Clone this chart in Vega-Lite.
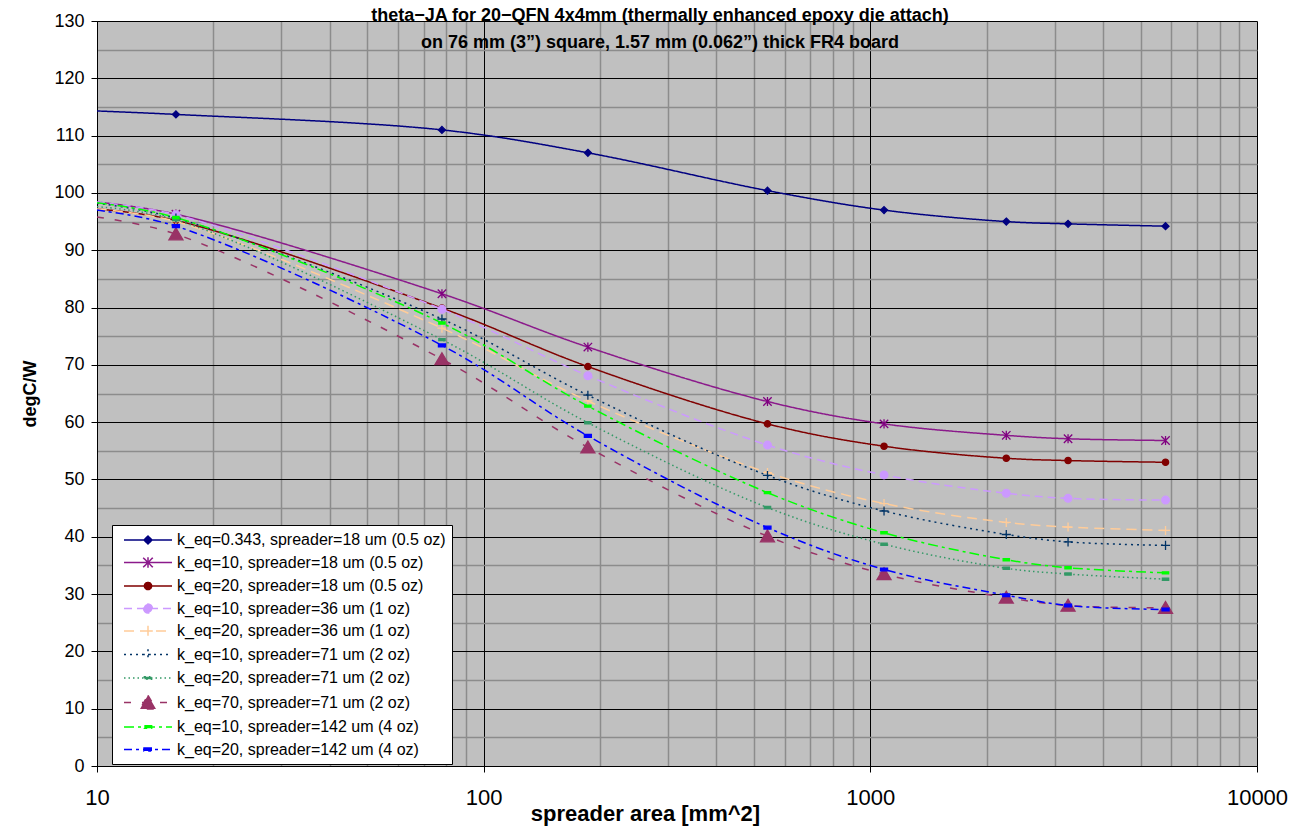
{
  "$schema": "https://vega.github.io/schema/vega-lite/v6.json",
  "width": 1160,
  "height": 745,
  "autosize": "none",
  "padding": {"left": 97, "top": 21, "right": 38, "bottom": 63},
  "background": "white",
  "config": {
    "view": {"fill": "#C0C0C0", "stroke": null},
    "font": "Liberation Sans",
    "legend": {
      "orient": "none",
      "legendX": 15,
      "legendY": 504,
      "fillColor": "white",
      "strokeColor": "black",
      "padding": 6,
      "labelFont": "Liberation Sans",
      "labelFontSize": 16,
      "labelColor": "black",
      "labelLimit": 500,
      "symbolType": "M-3,0L3,0",
      "symbolSize": 256,
      "symbolOffset": 21,
      "labelOffset": 20,
      "rowPadding": 5.5
    }
  },
  "title": {
    "text": ["theta−JA for 20−QFN 4x4mm (thermally enhanced epoxy die attach)", "on 76 mm (3”) square, 1.57 mm (0.062”) thick FR4 board"],
    "fontSize": 18,
    "fontWeight": "bold",
    "font": "Liberation Sans",
    "color": "black",
    "anchor": "middle",
    "offset": -40,
    "dx": -17,
    "lineHeight": 27
  },
  "resolve": {"axis": {"x": "independent", "y": "independent"}},
  "data": {
    "values": [
      {"series": "k_eq=0.343, spreader=18 um (0.5 oz)", "area": 10, "theta": 114.3},
      {"series": "k_eq=0.343, spreader=18 um (0.5 oz)", "area": 16, "theta": 113.7},
      {"series": "k_eq=0.343, spreader=18 um (0.5 oz)", "area": 78, "theta": 111.0},
      {"series": "k_eq=0.343, spreader=18 um (0.5 oz)", "area": 186, "theta": 107.0},
      {"series": "k_eq=0.343, spreader=18 um (0.5 oz)", "area": 542, "theta": 100.4},
      {"series": "k_eq=0.343, spreader=18 um (0.5 oz)", "area": 1085, "theta": 97.0},
      {"series": "k_eq=0.343, spreader=18 um (0.5 oz)", "area": 2247, "theta": 95.0},
      {"series": "k_eq=0.343, spreader=18 um (0.5 oz)", "area": 3246, "theta": 94.6},
      {"series": "k_eq=0.343, spreader=18 um (0.5 oz)", "area": 5800, "theta": 94.2},
      {"series": "k_eq=10, spreader=18 um (0.5 oz)", "area": 10, "theta": 98.4},
      {"series": "k_eq=10, spreader=18 um (0.5 oz)", "area": 16, "theta": 96.3},
      {"series": "k_eq=10, spreader=18 um (0.5 oz)", "area": 78, "theta": 82.4},
      {"series": "k_eq=10, spreader=18 um (0.5 oz)", "area": 186, "theta": 73.1},
      {"series": "k_eq=10, spreader=18 um (0.5 oz)", "area": 542, "theta": 63.6},
      {"series": "k_eq=10, spreader=18 um (0.5 oz)", "area": 1085, "theta": 59.7},
      {"series": "k_eq=10, spreader=18 um (0.5 oz)", "area": 2247, "theta": 57.7},
      {"series": "k_eq=10, spreader=18 um (0.5 oz)", "area": 3246, "theta": 57.1},
      {"series": "k_eq=10, spreader=18 um (0.5 oz)", "area": 5800, "theta": 56.8},
      {"series": "k_eq=20, spreader=18 um (0.5 oz)", "area": 10, "theta": 97.2},
      {"series": "k_eq=20, spreader=18 um (0.5 oz)", "area": 16, "theta": 95.2},
      {"series": "k_eq=20, spreader=18 um (0.5 oz)", "area": 78, "theta": 79.9},
      {"series": "k_eq=20, spreader=18 um (0.5 oz)", "area": 186, "theta": 69.7},
      {"series": "k_eq=20, spreader=18 um (0.5 oz)", "area": 542, "theta": 59.7},
      {"series": "k_eq=20, spreader=18 um (0.5 oz)", "area": 1085, "theta": 55.8},
      {"series": "k_eq=20, spreader=18 um (0.5 oz)", "area": 2247, "theta": 53.7},
      {"series": "k_eq=20, spreader=18 um (0.5 oz)", "area": 3246, "theta": 53.3},
      {"series": "k_eq=20, spreader=18 um (0.5 oz)", "area": 5800, "theta": 53.0},
      {"series": "k_eq=10, spreader=36 um (1 oz)", "area": 10, "theta": 98.4},
      {"series": "k_eq=10, spreader=36 um (1 oz)", "area": 16, "theta": 96.2},
      {"series": "k_eq=10, spreader=36 um (1 oz)", "area": 78, "theta": 79.7},
      {"series": "k_eq=10, spreader=36 um (1 oz)", "area": 186, "theta": 68.1},
      {"series": "k_eq=10, spreader=36 um (1 oz)", "area": 542, "theta": 56.0},
      {"series": "k_eq=10, spreader=36 um (1 oz)", "area": 1085, "theta": 50.8},
      {"series": "k_eq=10, spreader=36 um (1 oz)", "area": 2247, "theta": 47.6},
      {"series": "k_eq=10, spreader=36 um (1 oz)", "area": 3246, "theta": 46.7},
      {"series": "k_eq=10, spreader=36 um (1 oz)", "area": 5800, "theta": 46.4},
      {"series": "k_eq=20, spreader=36 um (1 oz)", "area": 10, "theta": 97.2},
      {"series": "k_eq=20, spreader=36 um (1 oz)", "area": 16, "theta": 95.0},
      {"series": "k_eq=20, spreader=36 um (1 oz)", "area": 78, "theta": 76.4},
      {"series": "k_eq=20, spreader=36 um (1 oz)", "area": 186, "theta": 63.7},
      {"series": "k_eq=20, spreader=36 um (1 oz)", "area": 542, "theta": 51.2},
      {"series": "k_eq=20, spreader=36 um (1 oz)", "area": 1085, "theta": 45.8},
      {"series": "k_eq=20, spreader=36 um (1 oz)", "area": 2247, "theta": 42.5},
      {"series": "k_eq=20, spreader=36 um (1 oz)", "area": 3246, "theta": 41.7},
      {"series": "k_eq=20, spreader=36 um (1 oz)", "area": 5800, "theta": 41.1},
      {"series": "k_eq=10, spreader=71 um (2 oz)", "area": 10, "theta": 98.2},
      {"series": "k_eq=10, spreader=71 um (2 oz)", "area": 16, "theta": 95.6},
      {"series": "k_eq=10, spreader=71 um (2 oz)", "area": 78, "theta": 78.0},
      {"series": "k_eq=10, spreader=71 um (2 oz)", "area": 186, "theta": 64.7},
      {"series": "k_eq=10, spreader=71 um (2 oz)", "area": 542, "theta": 50.7},
      {"series": "k_eq=10, spreader=71 um (2 oz)", "area": 1085, "theta": 44.5},
      {"series": "k_eq=10, spreader=71 um (2 oz)", "area": 2247, "theta": 40.4},
      {"series": "k_eq=10, spreader=71 um (2 oz)", "area": 3246, "theta": 39.1},
      {"series": "k_eq=10, spreader=71 um (2 oz)", "area": 5800, "theta": 38.5},
      {"series": "k_eq=20, spreader=71 um (2 oz)", "area": 10, "theta": 97.6},
      {"series": "k_eq=20, spreader=71 um (2 oz)", "area": 16, "theta": 95.3},
      {"series": "k_eq=20, spreader=71 um (2 oz)", "area": 78, "theta": 74.4},
      {"series": "k_eq=20, spreader=71 um (2 oz)", "area": 186, "theta": 59.9},
      {"series": "k_eq=20, spreader=71 um (2 oz)", "area": 542, "theta": 45.1},
      {"series": "k_eq=20, spreader=71 um (2 oz)", "area": 1085, "theta": 38.7},
      {"series": "k_eq=20, spreader=71 um (2 oz)", "area": 2247, "theta": 34.5},
      {"series": "k_eq=20, spreader=71 um (2 oz)", "area": 3246, "theta": 33.5},
      {"series": "k_eq=20, spreader=71 um (2 oz)", "area": 5800, "theta": 32.6},
      {"series": "k_eq=70, spreader=71 um (2 oz)", "area": 10, "theta": 95.8},
      {"series": "k_eq=70, spreader=71 um (2 oz)", "area": 16, "theta": 92.8},
      {"series": "k_eq=70, spreader=71 um (2 oz)", "area": 78, "theta": 71.0},
      {"series": "k_eq=70, spreader=71 um (2 oz)", "area": 186, "theta": 55.6},
      {"series": "k_eq=70, spreader=71 um (2 oz)", "area": 542, "theta": 40.1},
      {"series": "k_eq=70, spreader=71 um (2 oz)", "area": 1085, "theta": 33.5},
      {"series": "k_eq=70, spreader=71 um (2 oz)", "area": 2247, "theta": 29.4},
      {"series": "k_eq=70, spreader=71 um (2 oz)", "area": 3246, "theta": 28.0},
      {"series": "k_eq=70, spreader=71 um (2 oz)", "area": 5800, "theta": 27.6},
      {"series": "k_eq=10, spreader=142 um (4 oz)", "area": 10, "theta": 98.3},
      {"series": "k_eq=10, spreader=142 um (4 oz)", "area": 16, "theta": 95.7},
      {"series": "k_eq=10, spreader=142 um (4 oz)", "area": 78, "theta": 77.3},
      {"series": "k_eq=10, spreader=142 um (4 oz)", "area": 186, "theta": 62.8},
      {"series": "k_eq=10, spreader=142 um (4 oz)", "area": 542, "theta": 47.7},
      {"series": "k_eq=10, spreader=142 um (4 oz)", "area": 1085, "theta": 40.7},
      {"series": "k_eq=10, spreader=142 um (4 oz)", "area": 2247, "theta": 36.0},
      {"series": "k_eq=10, spreader=142 um (4 oz)", "area": 3246, "theta": 34.6},
      {"series": "k_eq=10, spreader=142 um (4 oz)", "area": 5800, "theta": 33.7},
      {"series": "k_eq=20, spreader=142 um (4 oz)", "area": 10, "theta": 97.0},
      {"series": "k_eq=20, spreader=142 um (4 oz)", "area": 16, "theta": 94.2},
      {"series": "k_eq=20, spreader=142 um (4 oz)", "area": 78, "theta": 73.4},
      {"series": "k_eq=20, spreader=142 um (4 oz)", "area": 186, "theta": 57.6},
      {"series": "k_eq=20, spreader=142 um (4 oz)", "area": 542, "theta": 41.6},
      {"series": "k_eq=20, spreader=142 um (4 oz)", "area": 1085, "theta": 34.3},
      {"series": "k_eq=20, spreader=142 um (4 oz)", "area": 2247, "theta": 29.8},
      {"series": "k_eq=20, spreader=142 um (4 oz)", "area": 3246, "theta": 28.0},
      {"series": "k_eq=20, spreader=142 um (4 oz)", "area": 5800, "theta": 27.3}
    ]
  },
  "layer": [
    {
      "mark": {"type": "line", "interpolate": "catmull-rom", "clip": true},
      "encoding": {
        "x": {
          "field": "area", "type": "quantitative",
          "scale": {"type": "log", "domain": [10, 10000], "nice": false},
          "axis": {
            "orient": "bottom",
            "values": [20, 30, 40, 50, 60, 70, 80, 90, 200, 300, 400, 500, 600, 700, 800, 900, 2000, 3000, 4000, 5000, 6000, 7000, 8000, 9000],
            "grid": true, "gridColor": "#8C8C8C", "gridWidth": 1.5, "gridOpacity": 1,
            "labels": false, "ticks": false, "domain": false, "title": null
          }
        },
        "y": {
          "field": "theta", "type": "quantitative",
          "scale": {"domain": [0, 130], "nice": false, "zero": false},
          "axis": {
            "orient": "left",
            "values": [5, 15, 25, 35, 45, 55, 65, 75, 85, 95, 105, 115, 125],
            "grid": true, "gridColor": "#8C8C8C", "gridWidth": 1.5, "gridOpacity": 1,
            "labels": false, "ticks": false, "domain": false, "title": null
          }
        },
        "color": {
          "field": "series", "type": "nominal",
          "scale": {
            "domain": ["k_eq=0.343, spreader=18 um (0.5 oz)", "k_eq=10, spreader=18 um (0.5 oz)", "k_eq=20, spreader=18 um (0.5 oz)", "k_eq=10, spreader=36 um (1 oz)", "k_eq=20, spreader=36 um (1 oz)", "k_eq=10, spreader=71 um (2 oz)", "k_eq=20, spreader=71 um (2 oz)", "k_eq=70, spreader=71 um (2 oz)", "k_eq=10, spreader=142 um (4 oz)", "k_eq=20, spreader=142 um (4 oz)"],
            "range": ["#000080", "#8B1A8B", "#800000", "#CC99FF", "#FFCC99", "#003366", "#339966", "#993366", "#00FF00", "#0000FF"]
          },
          "legend": {
            "title": null,
            "encode": {"symbols": {"update": {
              "shape": {"signal": "scale('shape', datum.value) + 'M-3,0L3,0'"},
              "stroke": {"signal": "scale('color', datum.value)"},
              "fill": {"signal": "scale('fill', datum.value)"},
              "strokeDash": {"signal": "scale('strokeDash', datum.value)"},
              "strokeWidth": {"signal": "scale('strokeWidth', datum.value)"},
              "opacity": {"value": 1}
            }}}
          }
        },
        "strokeDash": {
          "field": "series", "type": "nominal",
          "scale": {
            "domain": ["k_eq=0.343, spreader=18 um (0.5 oz)", "k_eq=10, spreader=18 um (0.5 oz)", "k_eq=20, spreader=18 um (0.5 oz)", "k_eq=10, spreader=36 um (1 oz)", "k_eq=20, spreader=36 um (1 oz)", "k_eq=10, spreader=71 um (2 oz)", "k_eq=20, spreader=71 um (2 oz)", "k_eq=70, spreader=71 um (2 oz)", "k_eq=10, spreader=142 um (4 oz)", "k_eq=20, spreader=142 um (4 oz)"],
            "range": [[1, 0], [1, 0], [1, 0], [8, 5], [10, 6], [2, 4], [1.5, 3], [7, 11], [10, 4, 3, 4], [8, 4, 3, 4]]
          },
          "legend": null
        },
        "strokeWidth": {
          "field": "series", "type": "ordinal",
          "scale": {
            "domain": ["k_eq=0.343, spreader=18 um (0.5 oz)", "k_eq=10, spreader=18 um (0.5 oz)", "k_eq=20, spreader=18 um (0.5 oz)", "k_eq=10, spreader=36 um (1 oz)", "k_eq=20, spreader=36 um (1 oz)", "k_eq=10, spreader=71 um (2 oz)", "k_eq=20, spreader=71 um (2 oz)", "k_eq=70, spreader=71 um (2 oz)", "k_eq=10, spreader=142 um (4 oz)", "k_eq=20, spreader=142 um (4 oz)"],
            "range": [1.5, 1.5, 1.5, 1.5, 2.5, 2.5, 1.5, 4, 2, 2]
          },
          "legend": null
        }
      }
    },
    {
      "transform": [
        {"filter": "datum.area > 10"},
        {"fold": ["series"], "as": ["key", "m"]}
      ],
      "mark": {"type": "point", "filled": true, "size": 196, "strokeWidth": 1.3, "opacity": 1},
      "encoding": {
        "x": {
          "field": "area", "type": "quantitative",
          "axis": {
            "orient": "bottom",
            "values": [10, 100, 1000, 10000], "format": "d",
            "grid": true, "gridColor": "black", "gridWidth": 1, "gridOpacity": 1,
            "labels": true, "labelFontSize": 22, "labelColor": "black", "labelFont": "Liberation Sans", "labelPadding": 15, "labelFlush": false,
            "ticks": true, "tickSize": 6, "tickColor": "black", "tickWidth": 1,
            "domain": true, "domainColor": "black", "domainWidth": 1,
            "title": "spreader area [mm^2]", "titleFontSize": 22, "titleFontWeight": "bold", "titleColor": "black", "titleFont": "Liberation Sans", "titlePadding": -5, "titleX": 548
          }
        },
        "y": {
          "field": "theta", "type": "quantitative",
          "axis": {
            "orient": "left",
            "values": [0, 10, 20, 30, 40, 50, 60, 70, 80, 90, 100, 110, 120, 130],
            "grid": true, "gridColor": "black", "gridWidth": 1, "gridOpacity": 1,
            "labels": true, "labelFontSize": 18, "labelColor": "black", "labelFont": "Liberation Sans", "labelPadding": 7, "labelFlush": false,
            "ticks": true, "tickSize": 6, "tickColor": "black", "tickWidth": 1,
            "domain": true, "domainColor": "black", "domainWidth": 1,
            "title": "degC/W", "titleFontSize": 18, "titleFontWeight": "bold", "titleColor": "black", "titleFont": "Liberation Sans", "titlePadding": 14
          }
        },
        "fill": {
          "field": "m", "type": "nominal",
          "scale": {
            "domain": ["k_eq=20, spreader=142 um (4 oz)", "k_eq=10, spreader=142 um (4 oz)", "k_eq=70, spreader=71 um (2 oz)", "k_eq=20, spreader=71 um (2 oz)", "k_eq=10, spreader=71 um (2 oz)", "k_eq=20, spreader=36 um (1 oz)", "k_eq=10, spreader=36 um (1 oz)", "k_eq=20, spreader=18 um (0.5 oz)", "k_eq=10, spreader=18 um (0.5 oz)", "k_eq=0.343, spreader=18 um (0.5 oz)"],
            "range": ["#0000FF", "#00FF00", "#993366", "#339966", "#003366", "#FFCC99", "#CC99FF", "#800000", "#800080", "#000080"]
          },
          "legend": null
        },
        "stroke": {
          "field": "m", "type": "nominal",
          "scale": {
            "domain": ["k_eq=20, spreader=142 um (4 oz)", "k_eq=10, spreader=142 um (4 oz)", "k_eq=70, spreader=71 um (2 oz)", "k_eq=20, spreader=71 um (2 oz)", "k_eq=10, spreader=71 um (2 oz)", "k_eq=20, spreader=36 um (1 oz)", "k_eq=10, spreader=36 um (1 oz)", "k_eq=20, spreader=18 um (0.5 oz)", "k_eq=10, spreader=18 um (0.5 oz)", "k_eq=0.343, spreader=18 um (0.5 oz)"],
            "range": ["#0000FF", "#00FF00", "#993366", "#339966", "#003366", "#FFCC99", "#CC99FF", "#800000", "#800080", "#000080"]
          },
          "legend": null
        },
        "shape": {
          "field": "m", "type": "nominal",
          "scale": {
            "domain": ["k_eq=20, spreader=142 um (4 oz)", "k_eq=10, spreader=142 um (4 oz)", "k_eq=70, spreader=71 um (2 oz)", "k_eq=20, spreader=71 um (2 oz)", "k_eq=10, spreader=71 um (2 oz)", "k_eq=20, spreader=36 um (1 oz)", "k_eq=10, spreader=36 um (1 oz)", "k_eq=20, spreader=18 um (0.5 oz)", "k_eq=10, spreader=18 um (0.5 oz)", "k_eq=0.343, spreader=18 um (0.5 oz)"],
            "range": [
              "M-0.5,-0.2L0.5,-0.2L0.5,0.2L-0.5,0.2Z",
              "M-0.45,-0.15L0.45,-0.15L0.45,0.15L-0.45,0.15Z",
              "M0,-0.9L1,0.8L-1,0.8Z",
              "M-0.45,-0.15L0.45,-0.15L0.45,0.15L-0.45,0.15Z",
              "M-0.65,0L0.65,0M0,-0.65L0,0.65",
              "M-0.65,0L0.65,0M0,-0.65L0,0.65",
              "M-0.55,0A0.55,0.55 0 1,0 0.55,0A0.55,0.55 0 1,0 -0.55,0Z",
              "M-0.45,0A0.45,0.45 0 1,0 0.45,0A0.45,0.45 0 1,0 -0.45,0Z",
              "M-0.6,-0.6L0.6,0.6M-0.6,0.6L0.6,-0.6M0,-0.65L0,0.65",
              "M0,-0.5L0.5,0L0,0.5L-0.5,0Z"
            ]
          },
          "legend": null
        }
      }
    }
  ]
}
